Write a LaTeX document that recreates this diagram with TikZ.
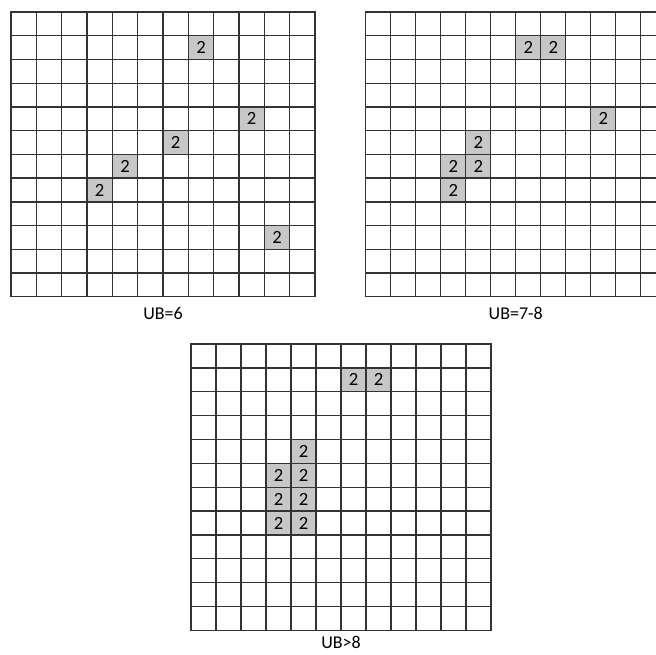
\documentclass[tikz,border=0pt]{standalone}
\usepackage{fontspec}
\setmainfont{Carlito}
\usetikzlibrary{positioning}
\tikzset{
  gridline/.style={draw=black!80, line width=1pt, line cap=rect},
  filled/.style={fill=black!22, draw=none, inner sep=0pt, font=\fontsize{14}{16}\selectfont},
  caption/.style={font=\fontsize{13.5}{16}\selectfont, inner sep=0pt}
}
\begin{document}
\begin{tikzpicture}[x=1pt,y=1pt]
\clip (0,0) rectangle (492,-490.5);
\fill[white] (0,0) rectangle (492,-490.5);

% grid for UB=6
\begin{scope}[shift={(8.25,-9)}, x=19pt, y=-17.8pt]
\foreach \r/\c in {1/7,4/9,5/6,6/4,7/3,9/10}
  \node[filled, minimum width=19pt, minimum height=17.8pt] (a\r\c) at (\c+0.5,\r+0.5) {2};
\foreach \i in {0,...,12} {
  \draw[gridline] (\i,0) -- (\i,12);
  \draw[gridline] (0,\i) -- (12,\i);
}
\coordinate (abot) at (6,12);
\end{scope}
\node[caption, below=7.5pt of abot] (ubsix) {UB=6};

% grid for UB=7-8
\begin{scope}[shift={(274.3,-9)}, x=18.75pt, y=-17.8pt]
\foreach \r/\c in {1/6,1/7,4/9,5/4,6/3,6/4,7/3}
  \node[filled, minimum width=18.75pt, minimum height=17.8pt] (b\r\c) at (\c+0.5,\r+0.5) {2};
\foreach \i in {0,...,12} {
  \draw[gridline] (\i,0) -- (\i,12);
  \draw[gridline] (0,\i) -- (12,\i);
}
\coordinate (bbot) at (6,12);
\end{scope}
\node[caption, below=7.5pt of bbot] (ubseven) {UB=7-8};

% grid for UB>8
\begin{scope}[shift={(143.25,-258)}, x=18.75pt, y=-17.9pt]
\foreach \r/\c in {1/6,1/7,4/4,5/3,5/4,6/3,6/4,7/3,7/4}
  \node[filled, minimum width=18.75pt, minimum height=17.9pt] (c\r\c) at (\c+0.5,\r+0.5) {2};
\foreach \i in {0,...,12} {
  \draw[gridline] (\i,0) -- (\i,12);
  \draw[gridline] (0,\i) -- (12,\i);
}
\coordinate (cbot) at (6,12);
\end{scope}
\node[caption, below=4.5pt of cbot] (ubeight) {UB>8};
\end{tikzpicture}
\end{document}
